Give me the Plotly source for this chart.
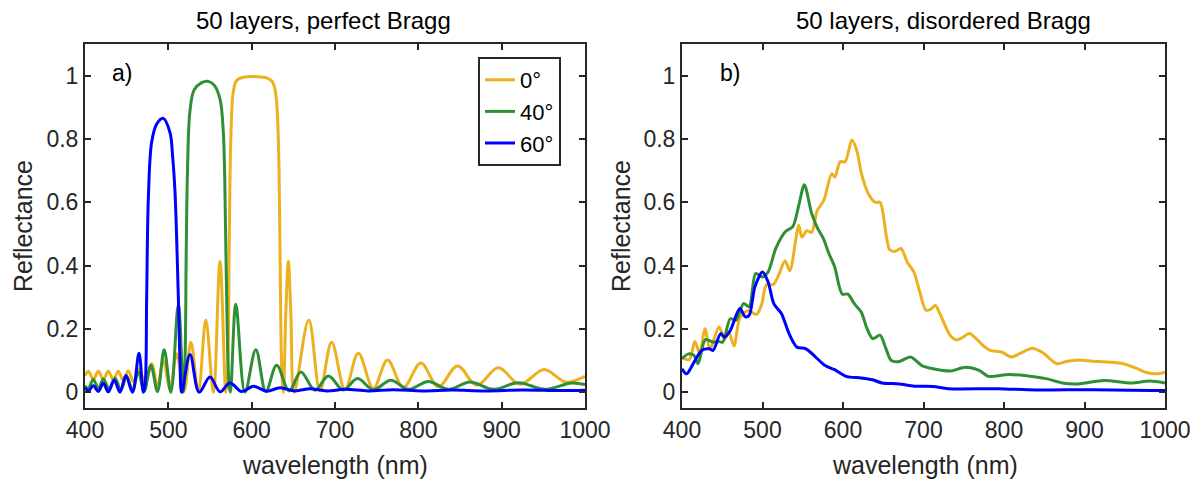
import plotly.graph_objects as go

# ---------------- data ----------------
# panel a) perfect Bragg, 0 deg
wl_a0 = [400, 404, 410, 416, 422, 428, 434, 440, 446, 452, 458, 465, 472, 480, 487, 494, 502, 510, 519, 527,
         536, 545, 554, 562, 569, 571, 573, 575, 578, 582, 590, 605, 618, 625, 629, 632, 634, 636, 638,
         641, 644, 647, 651, 668.5, 682, 696, 712, 728, 746, 763, 782, 803, 824, 847, 870, 896, 922, 951, 977, 1000]
R_a0 = [0.052, 0.066, 0.04, 0.066, 0.04, 0.066, 0.039, 0.066, 0.037, 0.068, 0.033, 0.074, 0.027, 0.09, 0.018, 0.1, 0.01, 0.121, 0.004, 0.158,
        0.002, 0.228, 0.0, 0.414, 0.0, 0.05, 0.45, 0.8, 0.95, 0.985, 0.995, 0.997, 0.993, 0.98, 0.94, 0.8, 0.45, 0.08, 0.0,
        0.25, 0.414, 0.25, 0.0, 0.228, 0.004, 0.158, 0.008, 0.123, 0.012, 0.102, 0.015, 0.092, 0.017, 0.083, 0.022, 0.077, 0.025, 0.072, 0.032, 0.05]

# panel a) perfect Bragg, 40 deg
wl_a40 = [400, 404, 410, 416, 422, 429, 436, 443, 450, 457, 464, 471, 479, 487, 495, 503, 512, 518,
          520, 521.5, 523, 526, 531, 540, 548, 555, 562, 566, 568.7, 571, 573, 574.5,
          581, 592, 605, 617, 630, 645, 659, 676, 692, 710, 727, 746, 767, 788, 812, 836, 862, 890, 920, 952, 984, 1000]
R_a40 = [0.02, 0.012, 0.04, 0.011, 0.042, 0.009, 0.045, 0.007, 0.05, 0.005, 0.064, 0.003, 0.085, 0.002, 0.134, 0.0, 0.278, 0.0,
         0.1, 0.45, 0.7, 0.89, 0.955, 0.978, 0.982, 0.97, 0.926, 0.82, 0.51, 0.15, 0.02, 0.0,
         0.278, 0.0, 0.134, 0.002, 0.085, 0.004, 0.064, 0.006, 0.051, 0.007, 0.043, 0.008, 0.038, 0.009, 0.034, 0.009, 0.032, 0.009, 0.03, 0.009, 0.029, 0.024]

# panel a) perfect Bragg, 60 deg
wl_a60 = [400, 404, 410, 416, 422, 428, 435, 442, 449, 457, 464.8, 470,
          472, 474, 476, 480, 486, 494, 502, 505, 508, 512, 514, 516,
          526, 537, 550, 562, 574, 588, 602, 618, 634, 652, 670, 690, 712, 740, 770, 805, 840, 880, 925, 970, 1000]
R_a60 = [0.015, 0.004, 0.02, 0.002, 0.028, 0.001, 0.038, 0.0, 0.053, 0.0, 0.123, 0.0,
         0.02, 0.3, 0.61, 0.79, 0.847, 0.865, 0.82, 0.75, 0.633, 0.3, 0.1, 0.0,
         0.119, 0.0, 0.048, 0.001, 0.029, 0.002, 0.019, 0.003, 0.014, 0.004, 0.011, 0.004, 0.009, 0.004, 0.008, 0.004, 0.007, 0.004, 0.007, 0.005, 0.006]

# panel b) disordered Bragg, 0 deg
wl_b0 = [400, 409, 416, 422, 428.6, 434.8, 446, 453, 458, 464.6, 472, 482, 492.7, 499, 505, 513.5, 520, 528, 534,
         545, 549, 555, 561, 568, 576, 586, 590, 596.5, 602.7, 611, 617, 623, 631.5, 640, 646, 654, 658, 665, 672,
         680, 688, 695, 703, 709, 714.6, 720, 733, 741, 748, 757, 765, 775, 783, 797, 809, 822, 835, 848, 865.6,
         878, 891.5, 910, 929, 948, 965, 976, 990, 1000]
R_b0 = [0.109, 0.103, 0.16, 0.123, 0.2, 0.136, 0.207, 0.167, 0.19, 0.146, 0.236, 0.257, 0.246, 0.278, 0.34, 0.34, 0.37, 0.415, 0.384,
        0.527, 0.49, 0.51, 0.505, 0.574, 0.605, 0.69, 0.68, 0.728, 0.728, 0.797, 0.765, 0.69, 0.627, 0.6, 0.6, 0.49, 0.45, 0.445, 0.454,
        0.41, 0.38, 0.32, 0.259, 0.262, 0.275, 0.25, 0.18, 0.165, 0.172, 0.185, 0.17, 0.145, 0.132, 0.127, 0.111, 0.125, 0.139, 0.125, 0.09,
        0.097, 0.102, 0.098, 0.095, 0.09, 0.075, 0.063, 0.058, 0.063]

# panel b) disordered Bragg, 40 deg
wl_b40 = [400, 408, 415, 420, 429, 438.7, 445, 450.5, 460, 467, 476.4, 483.5, 491.5, 500, 507, 516.5, 528.3, 537.7,
          545, 552, 561, 568, 575.5, 582.5, 589.6, 599, 606, 614, 622.6, 630, 636.8, 646, 653, 660, 670, 684, 698,
          712, 733.5, 752, 769, 780.7, 806.6, 839.6, 853.8, 872.6, 891.5, 924.5, 957.5, 981, 1000]
R_b40 = [0.106, 0.121, 0.116, 0.09, 0.166, 0.158, 0.16, 0.158, 0.232, 0.227, 0.28, 0.27, 0.375, 0.364, 0.38, 0.454, 0.507, 0.523,
         0.59, 0.655, 0.565, 0.52, 0.486, 0.438, 0.396, 0.31, 0.31, 0.28, 0.253, 0.2, 0.169, 0.18, 0.14, 0.1, 0.097, 0.111, 0.084,
         0.074, 0.067, 0.079, 0.069, 0.05, 0.056, 0.048, 0.042, 0.029, 0.026, 0.037, 0.029, 0.035, 0.029]

# panel b) disordered Bragg, 60 deg
wl_b60 = [400, 405.7, 415, 424.5, 434, 438.7, 448, 452.8, 460, 471.7, 478.8, 483.5, 490.6, 500, 507, 514, 523.6, 533,
          542.5, 554, 566, 577.8, 589.6, 603.8, 622.6, 636.8, 648.6, 669.8, 688.7, 712, 731, 792.5, 839.6, 910, 1000]
R_b60 = [0.074, 0.058, 0.095, 0.132, 0.137, 0.132, 0.185, 0.174, 0.195, 0.264, 0.238, 0.243, 0.333, 0.38, 0.348, 0.28, 0.248, 0.185,
         0.143, 0.137, 0.111, 0.084, 0.071, 0.05, 0.045, 0.039, 0.029, 0.026, 0.019, 0.018, 0.011, 0.011, 0.007, 0.008, 0.005]

series_names = ["0°", "40°", "60°"]
series_colors = ["#EDB120", "#2E8F35", "#0000FF"]
x_ticks = [400, 500, 600, 700, 800, 900, 1000]
y_ticks = [0, 0.2, 0.4, 0.6, 0.8, 1]
y_ticktext = ["0", "0.2", "0.4", "0.6", "0.8", "1"]
titles = ["50 layers, perfect Bragg", "50 layers, disordered Bragg"]
panel_labels = ["a)", "b)"]

# ---------------- figure ----------------
W, H = 1195, 479
def px(x):
    return x / W
def py(y):
    return 1 - y / H

FONT = "Liberation Sans, Arial, sans-serif"
TXT = "#262626"

fig = go.Figure()
panel_a = [(wl_a0, R_a0), (wl_a40, R_a40), (wl_a60, R_a60)]
panel_b = [(wl_b0, R_b0), (wl_b40, R_b40), (wl_b60, R_b60)]
for (x, y), name, col in zip(panel_a, series_names, series_colors):
    fig.add_trace(go.Scatter(x=x, y=y, mode="lines", name=name,
                             line=dict(color=col, width=3, shape="spline", smoothing=1.0),
                             xaxis="x", yaxis="y", showlegend=True))
for (x, y), name, col in zip(panel_b, series_names, series_colors):
    fig.add_trace(go.Scatter(x=x, y=y, mode="lines", name=name,
                             line=dict(color=col, width=3, shape="spline", smoothing=0.8),
                             xaxis="x2", yaxis="y2", showlegend=False))

ax_common = dict(showline=True, linecolor=TXT, linewidth=2, mirror="allticks",
                 ticks="inside", ticklen=6, tickwidth=1.6, tickcolor=TXT,
                 showgrid=False, zeroline=False, automargin=False,
                 tickfont=dict(family=FONT, size=23, color=TXT))
xa = dict(ax_common, range=[400, 1000], tickvals=x_ticks)
ya = dict(ax_common, range=[-0.05, 1.1], tickvals=y_ticks, ticktext=y_ticktext)

fig.update_layout(
    width=W, height=H,
    margin=dict(l=0, r=0, t=0, b=0),
    paper_bgcolor="white", plot_bgcolor="white",
    xaxis=dict(xa, domain=[px(85), px(585)], anchor="y"),
    yaxis=dict(ya, domain=[py(408), py(44)], anchor="x"),
    xaxis2=dict(xa, domain=[px(682), px(1165)], anchor="y2"),
    yaxis2=dict(ya, domain=[py(408), py(44)], anchor="x2"),
    legend=dict(x=px(478), y=py(57), xanchor="left", yanchor="top",
                bgcolor="white", bordercolor=TXT, borderwidth=2,
                font=dict(family=FONT, size=22, color="black"),
                tracegroupgap=0),
    font=dict(family=FONT, color=TXT),
)

ann = []
for t, cx in zip(titles, [323, 943]):
    ann.append(dict(text=t, x=px(cx), y=py(21), xref="paper", yref="paper",
                    showarrow=False, xanchor="center", yanchor="middle",
                    font=dict(family=FONT, size=24, color="black")))
for lab, cx in zip(panel_labels, [122, 730]):
    ann.append(dict(text=lab, x=px(cx), y=py(73), xref="paper", yref="paper",
                    showarrow=False, xanchor="center", yanchor="middle",
                    font=dict(family=FONT, size=23, color="black")))
for cx in [335, 925]:
    ann.append(dict(text="wavelength (nm)", x=px(cx), y=py(465), xref="paper", yref="paper",
                    showarrow=False, xanchor="center", yanchor="middle",
                    font=dict(family=FONT, size=25, color=TXT)))
for cx in [23, 621]:
    ann.append(dict(text="Reflectance", x=px(cx), y=py(226), xref="paper", yref="paper",
                    showarrow=False, xanchor="center", yanchor="middle", textangle=-90,
                    font=dict(family=FONT, size=25, color=TXT)))
fig.update_layout(annotations=ann)

fig.write_html("out.html", config={"displayModeBar": False},
               post_script="document.body.style.margin='0';")
